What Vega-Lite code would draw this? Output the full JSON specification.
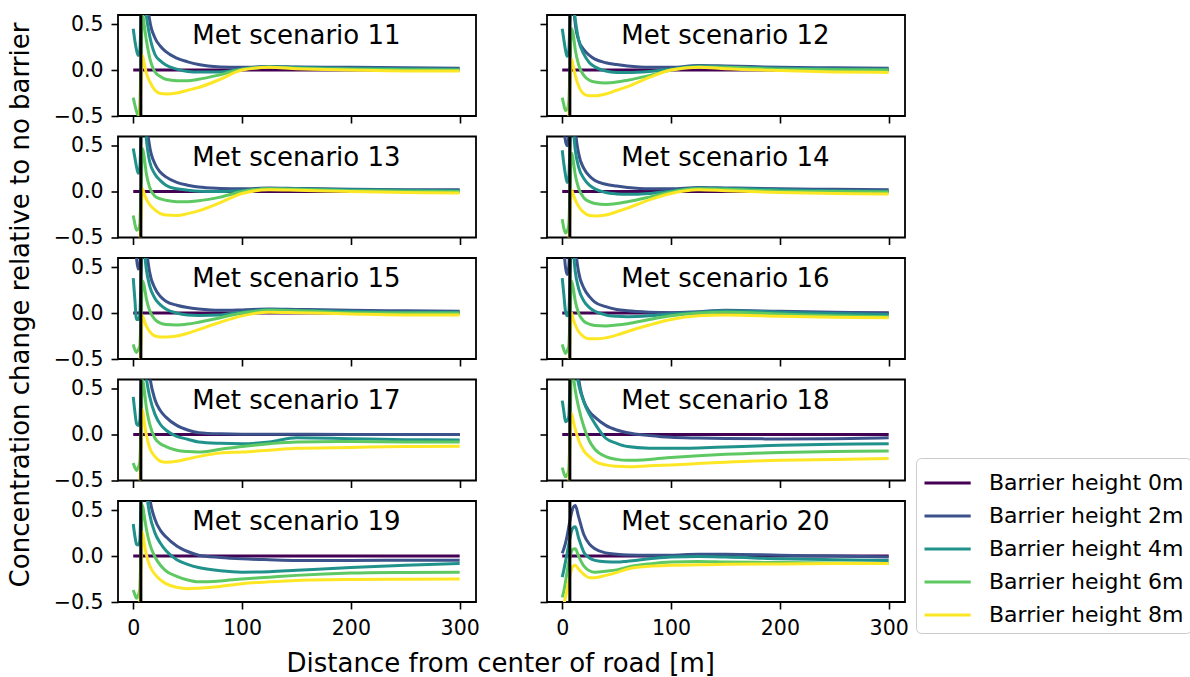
{
"$schema":"https://vega.github.io/schema/vega-lite/v6.json",
"padding":{"left":8,"top":12,"right":2,"bottom":2},
"background":"white",
"config":{
"font":"DejaVu Sans",
"view":{"stroke":"black","strokeWidth":1.8},
"axis":{"domain":false,"grid":false,"tickColor":"black","tickWidth":1.6,"tickSize":7,"labelFontSize":20.5,"labelColor":"black","labelPadding":8,"labelFlush":false},
"axisX":{"labelPadding":9},
"legend":{"symbolType":"M-1,0L1.8,0","symbolSize":1089,"symbolStrokeWidth":3,"labelFontSize":22,"labelColor":"black","labelOffset":30,"labelLimit":400,"rowPadding":4,"padding":7,"strokeColor":"#cccccc","fillColor":"white","cornerRadius":5}
},
"title":{"text":"Concentration change relative to no barrier","orient":"left","anchor":"middle","fontSize":26,"fontWeight":"normal","color":"black","offset":18,"dx":40},
"datasets":{
"barrier":[{"x":7}],
"labels":[{"s":11,"label":"Met scenario 11"},{"s":12,"label":"Met scenario 12"},{"s":13,"label":"Met scenario 13"},{"s":14,"label":"Met scenario 14"},{"s":15,"label":"Met scenario 15"},{"s":16,"label":"Met scenario 16"},{"s":17,"label":"Met scenario 17"},{"s":18,"label":"Met scenario 18"},{"s":19,"label":"Met scenario 19"},{"s":20,"label":"Met scenario 20"}],
"curves":[
{"s":11,"x":0,"h0":0,"h2":1.2,"h4":0.45,"h6":-0.3,"h8":-0.9},
{"s":11,"x":1.5,"h0":0,"h2":1.1,"h4":0.32,"h6":-0.38,"h8":-0.85},
{"s":11,"x":3,"h0":0,"h2":1.0,"h4":0.22,"h6":-0.45,"h8":-0.8},
{"s":11,"x":4.5,"h0":0,"h2":0.95,"h4":0.16,"h6":-0.49,"h8":-0.75},
{"s":11,"x":6,"h0":0,"h2":1.0,"h4":0.2,"h6":-0.4,"h8":-0.55},
{"s":11,"x":7,"h0":0,"h2":1.3,"h4":0.5,"h6":0.0,"h8":-0.2},
{"s":11,"x":8.5,"h0":0,"h2":1.6,"h4":1.0,"h6":0.62,"h8":0.16},
{"s":11,"x":10,"h0":0,"h2":1.4,"h4":0.85,"h6":0.5,"h8":0.08},
{"s":11,"x":12,"h0":0,"h2":0.9,"h4":0.6,"h6":0.33,"h8":-0.03},
{"s":11,"x":15,"h0":0,"h2":0.55,"h4":0.38,"h6":0.14,"h8":-0.12},
{"s":11,"x":20,"h0":0,"h2":0.35,"h4":0.17,"h6":-0.02,"h8":-0.22},
{"s":11,"x":25,"h0":0,"h2":0.26,"h4":0.1,"h6":-0.07,"h8":-0.255},
{"s":11,"x":30,"h0":0,"h2":0.2,"h4":0.055,"h6":-0.1,"h8":-0.26},
{"s":11,"x":40,"h0":0,"h2":0.13,"h4":0.01,"h6":-0.115,"h8":-0.25},
{"s":11,"x":50,"h0":0,"h2":0.09,"h4":-0.015,"h6":-0.115,"h8":-0.22},
{"s":11,"x":60,"h0":0,"h2":0.06,"h4":-0.022,"h6":-0.1,"h8":-0.19},
{"s":11,"x":80,"h0":0,"h2":0.035,"h4":-0.02,"h6":-0.05,"h8":-0.1},
{"s":11,"x":100,"h0":0,"h2":0.03,"h4":0.01,"h6":0.01,"h8":0.0},
{"s":11,"x":125,"h0":0,"h2":0.04,"h4":0.04,"h6":0.03,"h8":0.03},
{"s":11,"x":150,"h0":0,"h2":0.035,"h4":0.03,"h6":0.02,"h8":0.015},
{"s":11,"x":200,"h0":0,"h2":0.03,"h4":0.02,"h6":0.01,"h8":0.0},
{"s":11,"x":250,"h0":0,"h2":0.025,"h4":0.015,"h6":0.005,"h8":-0.01},
{"s":11,"x":300,"h0":0,"h2":0.02,"h4":0.01,"h6":0.0,"h8":-0.01},
{"s":12,"x":0,"h0":0,"h2":1.2,"h4":0.45,"h6":-0.3,"h8":-0.9},
{"s":12,"x":1.5,"h0":0,"h2":1.1,"h4":0.33,"h6":-0.38,"h8":-0.85},
{"s":12,"x":3,"h0":0,"h2":1.0,"h4":0.22,"h6":-0.44,"h8":-0.8},
{"s":12,"x":4.5,"h0":0,"h2":0.95,"h4":0.15,"h6":-0.43,"h8":-0.75},
{"s":12,"x":6,"h0":0,"h2":1.0,"h4":0.2,"h6":-0.35,"h8":-0.55},
{"s":12,"x":7,"h0":0,"h2":1.3,"h4":0.5,"h6":-0.05,"h8":-0.2},
{"s":12,"x":8.5,"h0":0,"h2":1.3,"h4":0.9,"h6":0.45,"h8":0.12},
{"s":12,"x":10,"h0":0,"h2":0.8,"h4":0.75,"h6":0.4,"h8":0.05},
{"s":12,"x":12,"h0":0,"h2":0.5,"h4":0.55,"h6":0.22,"h8":-0.06},
{"s":12,"x":15,"h0":0,"h2":0.33,"h4":0.33,"h6":0.06,"h8":-0.17},
{"s":12,"x":20,"h0":0,"h2":0.22,"h4":0.17,"h6":-0.06,"h8":-0.26},
{"s":12,"x":25,"h0":0,"h2":0.16,"h4":0.08,"h6":-0.11,"h8":-0.28},
{"s":12,"x":30,"h0":0,"h2":0.12,"h4":0.035,"h6":-0.13,"h8":-0.28},
{"s":12,"x":40,"h0":0,"h2":0.08,"h4":-0.01,"h6":-0.14,"h8":-0.26},
{"s":12,"x":50,"h0":0,"h2":0.06,"h4":-0.025,"h6":-0.13,"h8":-0.22},
{"s":12,"x":60,"h0":0,"h2":0.045,"h4":-0.027,"h6":-0.11,"h8":-0.18},
{"s":12,"x":80,"h0":0,"h2":0.03,"h4":-0.015,"h6":-0.06,"h8":-0.08},
{"s":12,"x":100,"h0":0,"h2":0.03,"h4":0.01,"h6":0.0,"h8":0.0},
{"s":12,"x":125,"h0":0,"h2":0.05,"h4":0.045,"h6":0.035,"h8":0.03},
{"s":12,"x":150,"h0":0,"h2":0.045,"h4":0.035,"h6":0.03,"h8":0.015},
{"s":12,"x":200,"h0":0,"h2":0.03,"h4":0.02,"h6":0.01,"h8":-0.005},
{"s":12,"x":250,"h0":0,"h2":0.025,"h4":0.012,"h6":0.005,"h8":-0.02},
{"s":12,"x":300,"h0":0,"h2":0.02,"h4":0.01,"h6":0.0,"h8":-0.025},
{"s":13,"x":0,"h0":0,"h2":1.2,"h4":0.47,"h6":-0.26,"h8":-0.9},
{"s":13,"x":1.5,"h0":0,"h2":1.1,"h4":0.37,"h6":-0.35,"h8":-0.85},
{"s":13,"x":3,"h0":0,"h2":1.0,"h4":0.27,"h6":-0.42,"h8":-0.8},
{"s":13,"x":4.5,"h0":0,"h2":0.95,"h4":0.2,"h6":-0.41,"h8":-0.75},
{"s":13,"x":6,"h0":0,"h2":1.0,"h4":0.25,"h6":-0.36,"h8":-0.6},
{"s":13,"x":7,"h0":0,"h2":1.3,"h4":0.55,"h6":-0.05,"h8":-0.3},
{"s":13,"x":8.5,"h0":0,"h2":1.5,"h4":1.0,"h6":0.47,"h8":0.035},
{"s":13,"x":10,"h0":0,"h2":1.2,"h4":0.85,"h6":0.38,"h8":-0.02},
{"s":13,"x":12,"h0":0,"h2":0.8,"h4":0.58,"h6":0.2,"h8":-0.08},
{"s":13,"x":15,"h0":0,"h2":0.5,"h4":0.33,"h6":0.05,"h8":-0.14},
{"s":13,"x":20,"h0":0,"h2":0.3,"h4":0.19,"h6":-0.05,"h8":-0.2},
{"s":13,"x":25,"h0":0,"h2":0.21,"h4":0.12,"h6":-0.08,"h8":-0.24},
{"s":13,"x":30,"h0":0,"h2":0.16,"h4":0.07,"h6":-0.095,"h8":-0.255},
{"s":13,"x":40,"h0":0,"h2":0.1,"h4":0.03,"h6":-0.11,"h8":-0.26},
{"s":13,"x":50,"h0":0,"h2":0.07,"h4":0.016,"h6":-0.11,"h8":-0.24},
{"s":13,"x":60,"h0":0,"h2":0.05,"h4":0.005,"h6":-0.1,"h8":-0.21},
{"s":13,"x":80,"h0":0,"h2":0.035,"h4":0.0,"h6":-0.06,"h8":-0.12},
{"s":13,"x":100,"h0":0,"h2":0.03,"h4":0.01,"h6":0.0,"h8":-0.02},
{"s":13,"x":125,"h0":0,"h2":0.04,"h4":0.035,"h6":0.03,"h8":0.02},
{"s":13,"x":150,"h0":0,"h2":0.035,"h4":0.03,"h6":0.025,"h8":0.015},
{"s":13,"x":200,"h0":0,"h2":0.025,"h4":0.02,"h6":0.01,"h8":0.0},
{"s":13,"x":250,"h0":0,"h2":0.02,"h4":0.015,"h6":0.005,"h8":-0.01},
{"s":13,"x":300,"h0":0,"h2":0.02,"h4":0.01,"h6":0.0,"h8":-0.015},
{"s":14,"x":0,"h0":0,"h2":0.9,"h4":0.45,"h6":-0.3,"h8":-0.9},
{"s":14,"x":1.5,"h0":0,"h2":0.7,"h4":0.3,"h6":-0.4,"h8":-0.85},
{"s":14,"x":3,"h0":0,"h2":0.55,"h4":0.18,"h6":-0.45,"h8":-0.8},
{"s":14,"x":4.5,"h0":0,"h2":0.5,"h4":0.1,"h6":-0.43,"h8":-0.75},
{"s":14,"x":6,"h0":0,"h2":0.6,"h4":0.15,"h6":-0.36,"h8":-0.6},
{"s":14,"x":7,"h0":0,"h2":0.9,"h4":0.45,"h6":-0.05,"h8":-0.3},
{"s":14,"x":8.5,"h0":0,"h2":1.4,"h4":0.9,"h6":0.42,"h8":0.02},
{"s":14,"x":10,"h0":0,"h2":1.2,"h4":0.7,"h6":0.35,"h8":-0.03},
{"s":14,"x":12,"h0":0,"h2":0.7,"h4":0.45,"h6":0.18,"h8":-0.09},
{"s":14,"x":15,"h0":0,"h2":0.42,"h4":0.27,"h6":0.04,"h8":-0.16},
{"s":14,"x":20,"h0":0,"h2":0.25,"h4":0.14,"h6":-0.07,"h8":-0.23},
{"s":14,"x":25,"h0":0,"h2":0.17,"h4":0.07,"h6":-0.11,"h8":-0.26},
{"s":14,"x":30,"h0":0,"h2":0.12,"h4":0.03,"h6":-0.13,"h8":-0.265},
{"s":14,"x":40,"h0":0,"h2":0.08,"h4":-0.01,"h6":-0.14,"h8":-0.255},
{"s":14,"x":50,"h0":0,"h2":0.06,"h4":-0.025,"h6":-0.13,"h8":-0.22},
{"s":14,"x":60,"h0":0,"h2":0.045,"h4":-0.03,"h6":-0.11,"h8":-0.18},
{"s":14,"x":80,"h0":0,"h2":0.03,"h4":-0.02,"h6":-0.06,"h8":-0.09},
{"s":14,"x":100,"h0":0,"h2":0.03,"h4":0.005,"h6":-0.005,"h8":-0.02},
{"s":14,"x":125,"h0":0,"h2":0.045,"h4":0.04,"h6":0.03,"h8":0.02},
{"s":14,"x":150,"h0":0,"h2":0.04,"h4":0.035,"h6":0.025,"h8":0.01},
{"s":14,"x":200,"h0":0,"h2":0.03,"h4":0.02,"h6":0.005,"h8":-0.01},
{"s":14,"x":250,"h0":0,"h2":0.025,"h4":0.01,"h6":0.0,"h8":-0.02},
{"s":14,"x":300,"h0":0,"h2":0.02,"h4":0.005,"h6":-0.005,"h8":-0.025},
{"s":15,"x":0,"h0":0,"h2":1.0,"h4":0.38,"h6":-0.34,"h8":-0.9},
{"s":15,"x":1.5,"h0":0,"h2":0.8,"h4":0.15,"h6":-0.4,"h8":-0.85},
{"s":15,"x":3,"h0":0,"h2":0.6,"h4":-0.07,"h6":-0.43,"h8":-0.8},
{"s":15,"x":4.5,"h0":0,"h2":0.48,"h4":-0.07,"h6":-0.4,"h8":-0.75},
{"s":15,"x":6,"h0":0,"h2":0.5,"h4":-0.02,"h6":-0.36,"h8":-0.6},
{"s":15,"x":7,"h0":0,"h2":0.8,"h4":0.3,"h6":-0.1,"h8":-0.35},
{"s":15,"x":8.5,"h0":0,"h2":1.4,"h4":0.85,"h6":0.35,"h8":-0.03},
{"s":15,"x":10,"h0":0,"h2":1.2,"h4":0.7,"h6":0.3,"h8":-0.08},
{"s":15,"x":12,"h0":0,"h2":0.75,"h4":0.48,"h6":0.16,"h8":-0.14},
{"s":15,"x":15,"h0":0,"h2":0.45,"h4":0.3,"h6":0.03,"h8":-0.2},
{"s":15,"x":20,"h0":0,"h2":0.27,"h4":0.16,"h6":-0.07,"h8":-0.25},
{"s":15,"x":25,"h0":0,"h2":0.18,"h4":0.09,"h6":-0.11,"h8":-0.26},
{"s":15,"x":30,"h0":0,"h2":0.13,"h4":0.045,"h6":-0.125,"h8":-0.26},
{"s":15,"x":40,"h0":0,"h2":0.085,"h4":0.0,"h6":-0.13,"h8":-0.25},
{"s":15,"x":50,"h0":0,"h2":0.06,"h4":-0.02,"h6":-0.12,"h8":-0.22},
{"s":15,"x":60,"h0":0,"h2":0.045,"h4":-0.025,"h6":-0.1,"h8":-0.18},
{"s":15,"x":80,"h0":0,"h2":0.03,"h4":-0.02,"h6":-0.05,"h8":-0.1},
{"s":15,"x":100,"h0":0,"h2":0.035,"h4":0.01,"h6":0.0,"h8":-0.03},
{"s":15,"x":125,"h0":0,"h2":0.045,"h4":0.04,"h6":0.03,"h8":0.01},
{"s":15,"x":150,"h0":0,"h2":0.04,"h4":0.03,"h6":0.025,"h8":0.005},
{"s":15,"x":200,"h0":0,"h2":0.03,"h4":0.02,"h6":0.005,"h8":-0.01},
{"s":15,"x":250,"h0":0,"h2":0.025,"h4":0.01,"h6":0.0,"h8":-0.02},
{"s":15,"x":300,"h0":0,"h2":0.02,"h4":0.01,"h6":0.0,"h8":-0.02},
{"s":16,"x":0,"h0":0,"h2":0.9,"h4":0.38,"h6":-0.34,"h8":-0.9},
{"s":16,"x":1.5,"h0":0,"h2":0.7,"h4":0.2,"h6":-0.4,"h8":-0.85},
{"s":16,"x":3,"h0":0,"h2":0.5,"h4":0.02,"h6":-0.44,"h8":-0.8},
{"s":16,"x":4.5,"h0":0,"h2":0.42,"h4":-0.03,"h6":-0.41,"h8":-0.75},
{"s":16,"x":6,"h0":0,"h2":0.5,"h4":0.0,"h6":-0.36,"h8":-0.6},
{"s":16,"x":7,"h0":0,"h2":0.8,"h4":0.3,"h6":-0.1,"h8":-0.35},
{"s":16,"x":8.5,"h0":0,"h2":1.4,"h4":0.85,"h6":0.35,"h8":0.0},
{"s":16,"x":10,"h0":0,"h2":1.2,"h4":0.7,"h6":0.28,"h8":-0.06},
{"s":16,"x":12,"h0":0,"h2":0.75,"h4":0.45,"h6":0.13,"h8":-0.13},
{"s":16,"x":15,"h0":0,"h2":0.45,"h4":0.27,"h6":0.0,"h8":-0.2},
{"s":16,"x":20,"h0":0,"h2":0.27,"h4":0.13,"h6":-0.09,"h8":-0.26},
{"s":16,"x":25,"h0":0,"h2":0.18,"h4":0.06,"h6":-0.12,"h8":-0.28},
{"s":16,"x":30,"h0":0,"h2":0.12,"h4":0.02,"h6":-0.135,"h8":-0.28},
{"s":16,"x":40,"h0":0,"h2":0.07,"h4":-0.02,"h6":-0.14,"h8":-0.27},
{"s":16,"x":50,"h0":0,"h2":0.04,"h4":-0.035,"h6":-0.13,"h8":-0.24},
{"s":16,"x":60,"h0":0,"h2":0.025,"h4":-0.04,"h6":-0.115,"h8":-0.2},
{"s":16,"x":80,"h0":0,"h2":0.01,"h4":-0.03,"h6":-0.07,"h8":-0.13},
{"s":16,"x":100,"h0":0,"h2":0.005,"h4":-0.01,"h6":-0.03,"h8":-0.07},
{"s":16,"x":125,"h0":0,"h2":0.015,"h4":0.01,"h6":0.0,"h8":-0.03},
{"s":16,"x":150,"h0":0,"h2":0.03,"h4":0.025,"h6":0.01,"h8":-0.02},
{"s":16,"x":200,"h0":0,"h2":0.02,"h4":0.01,"h6":-0.01,"h8":-0.035},
{"s":16,"x":250,"h0":0,"h2":0.01,"h4":-0.005,"h6":-0.03,"h8":-0.045},
{"s":16,"x":300,"h0":0,"h2":0.0,"h4":-0.015,"h6":-0.04,"h8":-0.05},
{"s":17,"x":0,"h0":0,"h2":1.2,"h4":0.41,"h6":-0.31,"h8":-0.9},
{"s":17,"x":1.5,"h0":0,"h2":1.1,"h4":0.25,"h6":-0.36,"h8":-0.85},
{"s":17,"x":3,"h0":0,"h2":1.0,"h4":0.12,"h6":-0.39,"h8":-0.8},
{"s":17,"x":4.5,"h0":0,"h2":0.95,"h4":0.1,"h6":-0.36,"h8":-0.75},
{"s":17,"x":6,"h0":0,"h2":1.0,"h4":0.15,"h6":-0.3,"h8":-0.6},
{"s":17,"x":7,"h0":0,"h2":1.3,"h4":0.45,"h6":0.0,"h8":-0.2},
{"s":17,"x":8.5,"h0":0,"h2":1.6,"h4":1.0,"h6":0.6,"h8":0.27},
{"s":17,"x":10,"h0":0,"h2":1.4,"h4":0.85,"h6":0.5,"h8":0.15},
{"s":17,"x":12,"h0":0,"h2":1.0,"h4":0.62,"h6":0.3,"h8":0.0},
{"s":17,"x":15,"h0":0,"h2":0.65,"h4":0.42,"h6":0.12,"h8":-0.14},
{"s":17,"x":20,"h0":0,"h2":0.38,"h4":0.22,"h6":-0.04,"h8":-0.24},
{"s":17,"x":25,"h0":0,"h2":0.26,"h4":0.11,"h6":-0.1,"h8":-0.29},
{"s":17,"x":30,"h0":0,"h2":0.19,"h4":0.05,"h6":-0.13,"h8":-0.3},
{"s":17,"x":40,"h0":0,"h2":0.1,"h4":-0.02,"h6":-0.17,"h8":-0.29},
{"s":17,"x":50,"h0":0,"h2":0.05,"h4":-0.05,"h6":-0.185,"h8":-0.265},
{"s":17,"x":60,"h0":0,"h2":0.02,"h4":-0.08,"h6":-0.19,"h8":-0.24},
{"s":17,"x":80,"h0":0,"h2":0.008,"h4":-0.095,"h6":-0.16,"h8":-0.2},
{"s":17,"x":100,"h0":0,"h2":0.005,"h4":-0.1,"h6":-0.13,"h8":-0.19},
{"s":17,"x":125,"h0":0,"h2":0.005,"h4":-0.08,"h6":-0.1,"h8":-0.17},
{"s":17,"x":150,"h0":0,"h2":0.005,"h4":-0.035,"h6":-0.08,"h8":-0.15},
{"s":17,"x":200,"h0":0,"h2":0.002,"h4":-0.045,"h6":-0.075,"h8":-0.14},
{"s":17,"x":250,"h0":0,"h2":0.0,"h4":-0.055,"h6":-0.08,"h8":-0.13},
{"s":17,"x":300,"h0":0,"h2":0.0,"h4":-0.06,"h6":-0.08,"h8":-0.127},
{"s":18,"x":0,"h0":0,"h2":1.2,"h4":0.37,"h6":-0.36,"h8":-0.9},
{"s":18,"x":1.5,"h0":0,"h2":1.1,"h4":0.25,"h6":-0.42,"h8":-0.85},
{"s":18,"x":3,"h0":0,"h2":1.0,"h4":0.14,"h6":-0.46,"h8":-0.8},
{"s":18,"x":4.5,"h0":0,"h2":0.95,"h4":0.15,"h6":-0.44,"h8":-0.75},
{"s":18,"x":6,"h0":0,"h2":1.0,"h4":0.2,"h6":-0.38,"h8":-0.55},
{"s":18,"x":7,"h0":0,"h2":1.3,"h4":0.5,"h6":-0.05,"h8":-0.2},
{"s":18,"x":8.5,"h0":0,"h2":1.6,"h4":1.0,"h6":0.7,"h8":0.23},
{"s":18,"x":10,"h0":0,"h2":1.4,"h4":0.9,"h6":0.65,"h8":0.16},
{"s":18,"x":12,"h0":0,"h2":1.0,"h4":0.75,"h6":0.48,"h8":0.06},
{"s":18,"x":15,"h0":0,"h2":0.62,"h4":0.55,"h6":0.3,"h8":-0.06},
{"s":18,"x":20,"h0":0,"h2":0.36,"h4":0.35,"h6":0.08,"h8":-0.18},
{"s":18,"x":25,"h0":0,"h2":0.25,"h4":0.22,"h6":-0.07,"h8":-0.24},
{"s":18,"x":30,"h0":0,"h2":0.19,"h4":0.12,"h6":-0.16,"h8":-0.29},
{"s":18,"x":40,"h0":0,"h2":0.1,"h4":-0.04,"h6":-0.24,"h8":-0.33},
{"s":18,"x":50,"h0":0,"h2":0.05,"h4":-0.095,"h6":-0.27,"h8":-0.345},
{"s":18,"x":60,"h0":0,"h2":0.02,"h4":-0.13,"h6":-0.28,"h8":-0.35},
{"s":18,"x":80,"h0":0,"h2":-0.01,"h4":-0.148,"h6":-0.27,"h8":-0.34},
{"s":18,"x":100,"h0":0,"h2":-0.03,"h4":-0.15,"h6":-0.25,"h8":-0.33},
{"s":18,"x":125,"h0":0,"h2":-0.038,"h4":-0.145,"h6":-0.23,"h8":-0.315},
{"s":18,"x":150,"h0":0,"h2":-0.043,"h4":-0.135,"h6":-0.215,"h8":-0.3},
{"s":18,"x":200,"h0":0,"h2":-0.047,"h4":-0.115,"h6":-0.195,"h8":-0.28},
{"s":18,"x":250,"h0":0,"h2":-0.045,"h4":-0.105,"h6":-0.185,"h8":-0.27},
{"s":18,"x":300,"h0":0,"h2":-0.035,"h4":-0.1,"h6":-0.18,"h8":-0.26},
{"s":19,"x":0,"h0":0,"h2":1.2,"h4":0.35,"h6":-0.37,"h8":-0.9},
{"s":19,"x":1.5,"h0":0,"h2":1.1,"h4":0.22,"h6":-0.42,"h8":-0.85},
{"s":19,"x":3,"h0":0,"h2":1.0,"h4":0.13,"h6":-0.46,"h8":-0.8},
{"s":19,"x":4.5,"h0":0,"h2":0.95,"h4":0.12,"h6":-0.43,"h8":-0.75},
{"s":19,"x":6,"h0":0,"h2":1.0,"h4":0.17,"h6":-0.36,"h8":-0.55},
{"s":19,"x":7,"h0":0,"h2":1.3,"h4":0.5,"h6":0.0,"h8":-0.2},
{"s":19,"x":8.5,"h0":0,"h2":1.6,"h4":1.0,"h6":0.55,"h8":0.26},
{"s":19,"x":10,"h0":0,"h2":1.4,"h4":0.9,"h6":0.45,"h8":0.15},
{"s":19,"x":12,"h0":0,"h2":1.0,"h4":0.7,"h6":0.3,"h8":0.02},
{"s":19,"x":15,"h0":0,"h2":0.65,"h4":0.46,"h6":0.14,"h8":-0.1},
{"s":19,"x":20,"h0":0,"h2":0.4,"h4":0.25,"h6":-0.01,"h8":-0.2},
{"s":19,"x":25,"h0":0,"h2":0.28,"h4":0.14,"h6":-0.1,"h8":-0.26},
{"s":19,"x":30,"h0":0,"h2":0.21,"h4":0.06,"h6":-0.16,"h8":-0.3},
{"s":19,"x":40,"h0":0,"h2":0.11,"h4":-0.04,"h6":-0.22,"h8":-0.34},
{"s":19,"x":50,"h0":0,"h2":0.05,"h4":-0.09,"h6":-0.26,"h8":-0.355},
{"s":19,"x":60,"h0":0,"h2":0.01,"h4":-0.125,"h6":-0.28,"h8":-0.35},
{"s":19,"x":80,"h0":0,"h2":-0.015,"h4":-0.16,"h6":-0.27,"h8":-0.33},
{"s":19,"x":100,"h0":0,"h2":-0.03,"h4":-0.175,"h6":-0.25,"h8":-0.3},
{"s":19,"x":125,"h0":0,"h2":-0.04,"h4":-0.17,"h6":-0.23,"h8":-0.28},
{"s":19,"x":150,"h0":0,"h2":-0.047,"h4":-0.155,"h6":-0.21,"h8":-0.265},
{"s":19,"x":200,"h0":0,"h2":-0.047,"h4":-0.125,"h6":-0.185,"h8":-0.255},
{"s":19,"x":250,"h0":0,"h2":-0.046,"h4":-0.1,"h6":-0.178,"h8":-0.252},
{"s":19,"x":300,"h0":0,"h2":-0.045,"h4":-0.08,"h6":-0.175,"h8":-0.25},
{"s":20,"x":0,"h0":0,"h2":0.03,"h4":-0.23,"h6":-0.45,"h8":-0.6},
{"s":20,"x":1.5,"h0":0,"h2":0.08,"h4":-0.15,"h6":-0.38,"h8":-0.52},
{"s":20,"x":3,"h0":0,"h2":0.14,"h4":-0.06,"h6":-0.28,"h8":-0.45},
{"s":20,"x":4.5,"h0":0,"h2":0.22,"h4":0.03,"h6":-0.17,"h8":-0.36},
{"s":20,"x":6,"h0":0,"h2":0.32,"h4":0.13,"h6":-0.06,"h8":-0.27},
{"s":20,"x":7,"h0":0,"h2":0.38,"h4":0.19,"h6":-0.01,"h8":-0.22},
{"s":20,"x":8.5,"h0":0,"h2":0.47,"h4":0.27,"h6":0.05,"h8":-0.15},
{"s":20,"x":10,"h0":0,"h2":0.53,"h4":0.31,"h6":0.075,"h8":-0.11},
{"s":20,"x":12,"h0":0,"h2":0.55,"h4":0.32,"h6":0.08,"h8":-0.1},
{"s":20,"x":15,"h0":0,"h2":0.43,"h4":0.2,"h6":0.0,"h8":-0.14},
{"s":20,"x":20,"h0":0,"h2":0.23,"h4":0.04,"h6":-0.11,"h8":-0.2},
{"s":20,"x":25,"h0":0,"h2":0.13,"h4":-0.02,"h6":-0.16,"h8":-0.235},
{"s":20,"x":30,"h0":0,"h2":0.08,"h4":-0.047,"h6":-0.175,"h8":-0.235},
{"s":20,"x":40,"h0":0,"h2":0.035,"h4":-0.062,"h6":-0.165,"h8":-0.21},
{"s":20,"x":50,"h0":0,"h2":0.02,"h4":-0.065,"h6":-0.15,"h8":-0.18},
{"s":20,"x":60,"h0":0,"h2":0.012,"h4":-0.055,"h6":-0.12,"h8":-0.14},
{"s":20,"x":80,"h0":0,"h2":0.008,"h4":-0.03,"h6":-0.085,"h8":-0.11},
{"s":20,"x":100,"h0":0,"h2":0.01,"h4":-0.01,"h6":-0.065,"h8":-0.1},
{"s":20,"x":125,"h0":0,"h2":0.02,"h4":-0.005,"h6":-0.06,"h8":-0.095},
{"s":20,"x":150,"h0":0,"h2":0.02,"h4":-0.01,"h6":-0.065,"h8":-0.09},
{"s":20,"x":200,"h0":0,"h2":0.01,"h4":-0.03,"h6":-0.07,"h8":-0.085},
{"s":20,"x":250,"h0":0,"h2":0.0,"h4":-0.04,"h6":-0.075,"h8":-0.082},
{"s":20,"x":300,"h0":0,"h2":-0.01,"h4":-0.047,"h6":-0.08,"h8":-0.08}
]
},
"spacing":5.5,
"vconcat":[
{"hconcat":[
{"width":358,"height":101,"layer":[
{"data":{"name":"curves"},"transform":[{"filter":"datum.s == 11"},{"fold":["h0","h2","h4","h6","h8"],"as":["h","y"]}],"mark":{"type":"line","clip":true,"strokeWidth":3,"interpolate":"monotone"},"encoding":{"x":{"field":"x","type":"quantitative","title":null,"scale":{"domain":[-14,315],"nice":false},"axis":{"values":[0,100,200,300],"labels":false,"format":"d"}},"y":{"field":"y","type":"quantitative","title":null,"scale":{"domain":[-0.5,0.6],"nice":false},"axis":{"values":[-0.5,0,0.5],"labels":true,"format":".1f"}},"color":{"field":"h","type":"nominal","scale":{"domain":["h0","h2","h4","h6","h8"],"range":["#440154","#3b528b","#21918c","#5ec962","#fde725"]},"legend":{"orient":"none","legendX":798,"legendY":443,"title":null,"labelExpr":"'Barrier height ' + slice(datum.label, 1) + 'm'"}}}},
{"data":{"name":"barrier"},"mark":{"type":"rule","color":"black","strokeWidth":3},"encoding":{"x":{"field":"x","type":"quantitative","title":null}}},
{"data":{"name":"labels"},"transform":[{"filter":"datum.s == 11"}],"mark":{"type":"text","fontSize":26,"align":"center","baseline":"middle","color":"black"},"encoding":{"x":{"datum":150},"y":{"datum":0.37},"text":{"field":"label"}}}
]},
{"width":358,"height":101,"layer":[
{"data":{"name":"curves"},"transform":[{"filter":"datum.s == 12"},{"fold":["h0","h2","h4","h6","h8"],"as":["h","y"]}],"mark":{"type":"line","clip":true,"strokeWidth":3,"interpolate":"monotone"},"encoding":{"x":{"field":"x","type":"quantitative","title":null,"scale":{"domain":[-14,315],"nice":false},"axis":{"values":[0,100,200,300],"labels":false,"format":"d"}},"y":{"field":"y","type":"quantitative","title":null,"scale":{"domain":[-0.5,0.6],"nice":false},"axis":{"values":[-0.5,0,0.5],"labels":false,"format":".1f"}},"color":{"field":"h","type":"nominal","scale":{"domain":["h0","h2","h4","h6","h8"],"range":["#440154","#3b528b","#21918c","#5ec962","#fde725"]},"legend":{"orient":"none","legendX":798,"legendY":443,"title":null,"labelExpr":"'Barrier height ' + slice(datum.label, 1) + 'm'"}}}},
{"data":{"name":"barrier"},"mark":{"type":"rule","color":"black","strokeWidth":3},"encoding":{"x":{"field":"x","type":"quantitative","title":null}}},
{"data":{"name":"labels"},"transform":[{"filter":"datum.s == 12"}],"mark":{"type":"text","fontSize":26,"align":"center","baseline":"middle","color":"black"},"encoding":{"x":{"datum":150},"y":{"datum":0.37},"text":{"field":"label"}}}
]}
],"spacing":71,"bounds":"flush"},
{"hconcat":[
{"width":358,"height":101,"layer":[
{"data":{"name":"curves"},"transform":[{"filter":"datum.s == 13"},{"fold":["h0","h2","h4","h6","h8"],"as":["h","y"]}],"mark":{"type":"line","clip":true,"strokeWidth":3,"interpolate":"monotone"},"encoding":{"x":{"field":"x","type":"quantitative","title":null,"scale":{"domain":[-14,315],"nice":false},"axis":{"values":[0,100,200,300],"labels":false,"format":"d"}},"y":{"field":"y","type":"quantitative","title":null,"scale":{"domain":[-0.5,0.6],"nice":false},"axis":{"values":[-0.5,0,0.5],"labels":true,"format":".1f"}},"color":{"field":"h","type":"nominal","scale":{"domain":["h0","h2","h4","h6","h8"],"range":["#440154","#3b528b","#21918c","#5ec962","#fde725"]},"legend":{"orient":"none","legendX":798,"legendY":443,"title":null,"labelExpr":"'Barrier height ' + slice(datum.label, 1) + 'm'"}}}},
{"data":{"name":"barrier"},"mark":{"type":"rule","color":"black","strokeWidth":3},"encoding":{"x":{"field":"x","type":"quantitative","title":null}}},
{"data":{"name":"labels"},"transform":[{"filter":"datum.s == 13"}],"mark":{"type":"text","fontSize":26,"align":"center","baseline":"middle","color":"black"},"encoding":{"x":{"datum":150},"y":{"datum":0.37},"text":{"field":"label"}}}
]},
{"width":358,"height":101,"layer":[
{"data":{"name":"curves"},"transform":[{"filter":"datum.s == 14"},{"fold":["h0","h2","h4","h6","h8"],"as":["h","y"]}],"mark":{"type":"line","clip":true,"strokeWidth":3,"interpolate":"monotone"},"encoding":{"x":{"field":"x","type":"quantitative","title":null,"scale":{"domain":[-14,315],"nice":false},"axis":{"values":[0,100,200,300],"labels":false,"format":"d"}},"y":{"field":"y","type":"quantitative","title":null,"scale":{"domain":[-0.5,0.6],"nice":false},"axis":{"values":[-0.5,0,0.5],"labels":false,"format":".1f"}},"color":{"field":"h","type":"nominal","scale":{"domain":["h0","h2","h4","h6","h8"],"range":["#440154","#3b528b","#21918c","#5ec962","#fde725"]},"legend":{"orient":"none","legendX":798,"legendY":443,"title":null,"labelExpr":"'Barrier height ' + slice(datum.label, 1) + 'm'"}}}},
{"data":{"name":"barrier"},"mark":{"type":"rule","color":"black","strokeWidth":3},"encoding":{"x":{"field":"x","type":"quantitative","title":null}}},
{"data":{"name":"labels"},"transform":[{"filter":"datum.s == 14"}],"mark":{"type":"text","fontSize":26,"align":"center","baseline":"middle","color":"black"},"encoding":{"x":{"datum":150},"y":{"datum":0.37},"text":{"field":"label"}}}
]}
],"spacing":71,"bounds":"flush"},
{"hconcat":[
{"width":358,"height":101,"layer":[
{"data":{"name":"curves"},"transform":[{"filter":"datum.s == 15"},{"fold":["h0","h2","h4","h6","h8"],"as":["h","y"]}],"mark":{"type":"line","clip":true,"strokeWidth":3,"interpolate":"monotone"},"encoding":{"x":{"field":"x","type":"quantitative","title":null,"scale":{"domain":[-14,315],"nice":false},"axis":{"values":[0,100,200,300],"labels":false,"format":"d"}},"y":{"field":"y","type":"quantitative","title":null,"scale":{"domain":[-0.5,0.6],"nice":false},"axis":{"values":[-0.5,0,0.5],"labels":true,"format":".1f"}},"color":{"field":"h","type":"nominal","scale":{"domain":["h0","h2","h4","h6","h8"],"range":["#440154","#3b528b","#21918c","#5ec962","#fde725"]},"legend":{"orient":"none","legendX":798,"legendY":443,"title":null,"labelExpr":"'Barrier height ' + slice(datum.label, 1) + 'm'"}}}},
{"data":{"name":"barrier"},"mark":{"type":"rule","color":"black","strokeWidth":3},"encoding":{"x":{"field":"x","type":"quantitative","title":null}}},
{"data":{"name":"labels"},"transform":[{"filter":"datum.s == 15"}],"mark":{"type":"text","fontSize":26,"align":"center","baseline":"middle","color":"black"},"encoding":{"x":{"datum":150},"y":{"datum":0.37},"text":{"field":"label"}}}
]},
{"width":358,"height":101,"layer":[
{"data":{"name":"curves"},"transform":[{"filter":"datum.s == 16"},{"fold":["h0","h2","h4","h6","h8"],"as":["h","y"]}],"mark":{"type":"line","clip":true,"strokeWidth":3,"interpolate":"monotone"},"encoding":{"x":{"field":"x","type":"quantitative","title":null,"scale":{"domain":[-14,315],"nice":false},"axis":{"values":[0,100,200,300],"labels":false,"format":"d"}},"y":{"field":"y","type":"quantitative","title":null,"scale":{"domain":[-0.5,0.6],"nice":false},"axis":{"values":[-0.5,0,0.5],"labels":false,"format":".1f"}},"color":{"field":"h","type":"nominal","scale":{"domain":["h0","h2","h4","h6","h8"],"range":["#440154","#3b528b","#21918c","#5ec962","#fde725"]},"legend":{"orient":"none","legendX":798,"legendY":443,"title":null,"labelExpr":"'Barrier height ' + slice(datum.label, 1) + 'm'"}}}},
{"data":{"name":"barrier"},"mark":{"type":"rule","color":"black","strokeWidth":3},"encoding":{"x":{"field":"x","type":"quantitative","title":null}}},
{"data":{"name":"labels"},"transform":[{"filter":"datum.s == 16"}],"mark":{"type":"text","fontSize":26,"align":"center","baseline":"middle","color":"black"},"encoding":{"x":{"datum":150},"y":{"datum":0.37},"text":{"field":"label"}}}
]}
],"spacing":71,"bounds":"flush"},
{"hconcat":[
{"width":358,"height":101,"layer":[
{"data":{"name":"curves"},"transform":[{"filter":"datum.s == 17"},{"fold":["h0","h2","h4","h6","h8"],"as":["h","y"]}],"mark":{"type":"line","clip":true,"strokeWidth":3,"interpolate":"monotone"},"encoding":{"x":{"field":"x","type":"quantitative","title":null,"scale":{"domain":[-14,315],"nice":false},"axis":{"values":[0,100,200,300],"labels":false,"format":"d"}},"y":{"field":"y","type":"quantitative","title":null,"scale":{"domain":[-0.5,0.6],"nice":false},"axis":{"values":[-0.5,0,0.5],"labels":true,"format":".1f"}},"color":{"field":"h","type":"nominal","scale":{"domain":["h0","h2","h4","h6","h8"],"range":["#440154","#3b528b","#21918c","#5ec962","#fde725"]},"legend":{"orient":"none","legendX":798,"legendY":443,"title":null,"labelExpr":"'Barrier height ' + slice(datum.label, 1) + 'm'"}}}},
{"data":{"name":"barrier"},"mark":{"type":"rule","color":"black","strokeWidth":3},"encoding":{"x":{"field":"x","type":"quantitative","title":null}}},
{"data":{"name":"labels"},"transform":[{"filter":"datum.s == 17"}],"mark":{"type":"text","fontSize":26,"align":"center","baseline":"middle","color":"black"},"encoding":{"x":{"datum":150},"y":{"datum":0.37},"text":{"field":"label"}}}
]},
{"width":358,"height":101,"layer":[
{"data":{"name":"curves"},"transform":[{"filter":"datum.s == 18"},{"fold":["h0","h2","h4","h6","h8"],"as":["h","y"]}],"mark":{"type":"line","clip":true,"strokeWidth":3,"interpolate":"monotone"},"encoding":{"x":{"field":"x","type":"quantitative","title":null,"scale":{"domain":[-14,315],"nice":false},"axis":{"values":[0,100,200,300],"labels":false,"format":"d"}},"y":{"field":"y","type":"quantitative","title":null,"scale":{"domain":[-0.5,0.6],"nice":false},"axis":{"values":[-0.5,0,0.5],"labels":false,"format":".1f"}},"color":{"field":"h","type":"nominal","scale":{"domain":["h0","h2","h4","h6","h8"],"range":["#440154","#3b528b","#21918c","#5ec962","#fde725"]},"legend":{"orient":"none","legendX":798,"legendY":443,"title":null,"labelExpr":"'Barrier height ' + slice(datum.label, 1) + 'm'"}}}},
{"data":{"name":"barrier"},"mark":{"type":"rule","color":"black","strokeWidth":3},"encoding":{"x":{"field":"x","type":"quantitative","title":null}}},
{"data":{"name":"labels"},"transform":[{"filter":"datum.s == 18"}],"mark":{"type":"text","fontSize":26,"align":"center","baseline":"middle","color":"black"},"encoding":{"x":{"datum":150},"y":{"datum":0.37},"text":{"field":"label"}}}
]}
],"spacing":71,"bounds":"flush"},
{"hconcat":[
{"width":358,"height":101,"layer":[
{"data":{"name":"curves"},"transform":[{"filter":"datum.s == 19"},{"fold":["h0","h2","h4","h6","h8"],"as":["h","y"]}],"mark":{"type":"line","clip":true,"strokeWidth":3,"interpolate":"monotone"},"encoding":{"x":{"field":"x","type":"quantitative","title":null,"scale":{"domain":[-14,315],"nice":false},"axis":{"values":[0,100,200,300],"labels":true,"format":"d"}},"y":{"field":"y","type":"quantitative","title":null,"scale":{"domain":[-0.5,0.6],"nice":false},"axis":{"values":[-0.5,0,0.5],"labels":true,"format":".1f"}},"color":{"field":"h","type":"nominal","scale":{"domain":["h0","h2","h4","h6","h8"],"range":["#440154","#3b528b","#21918c","#5ec962","#fde725"]},"legend":{"orient":"none","legendX":798,"legendY":443,"title":null,"labelExpr":"'Barrier height ' + slice(datum.label, 1) + 'm'"}}}},
{"data":{"name":"barrier"},"mark":{"type":"rule","color":"black","strokeWidth":3},"encoding":{"x":{"field":"x","type":"quantitative","title":null}}},
{"data":{"name":"labels"},"transform":[{"filter":"datum.s == 19"}],"mark":{"type":"text","fontSize":26,"align":"center","baseline":"middle","color":"black"},"encoding":{"x":{"datum":150},"y":{"datum":0.37},"text":{"field":"label"}}}
]},
{"width":358,"height":101,"layer":[
{"data":{"name":"curves"},"transform":[{"filter":"datum.s == 20"},{"fold":["h0","h2","h4","h6","h8"],"as":["h","y"]}],"mark":{"type":"line","clip":true,"strokeWidth":3,"interpolate":"monotone"},"encoding":{"x":{"field":"x","type":"quantitative","title":null,"scale":{"domain":[-14,315],"nice":false},"axis":{"values":[0,100,200,300],"labels":true,"format":"d"}},"y":{"field":"y","type":"quantitative","title":null,"scale":{"domain":[-0.5,0.6],"nice":false},"axis":{"values":[-0.5,0,0.5],"labels":false,"format":".1f"}},"color":{"field":"h","type":"nominal","scale":{"domain":["h0","h2","h4","h6","h8"],"range":["#440154","#3b528b","#21918c","#5ec962","#fde725"]},"legend":{"orient":"none","legendX":798,"legendY":443,"title":null,"labelExpr":"'Barrier height ' + slice(datum.label, 1) + 'm'"}}}},
{"data":{"name":"barrier"},"mark":{"type":"rule","color":"black","strokeWidth":3},"encoding":{"x":{"field":"x","type":"quantitative","title":null}}},
{"data":{"name":"labels"},"transform":[{"filter":"datum.s == 20"}],"mark":{"type":"text","fontSize":26,"align":"center","baseline":"middle","color":"black"},"encoding":{"x":{"datum":150},"y":{"datum":0.37},"text":{"field":"label"}}}
]}
],"spacing":71,"bounds":"flush","title":{"text":"Distance from center of road [m]","orient":"bottom","anchor":"middle","fontSize":26,"fontWeight":"normal","color":"black","offset":12,"dx":20}}
]
}
